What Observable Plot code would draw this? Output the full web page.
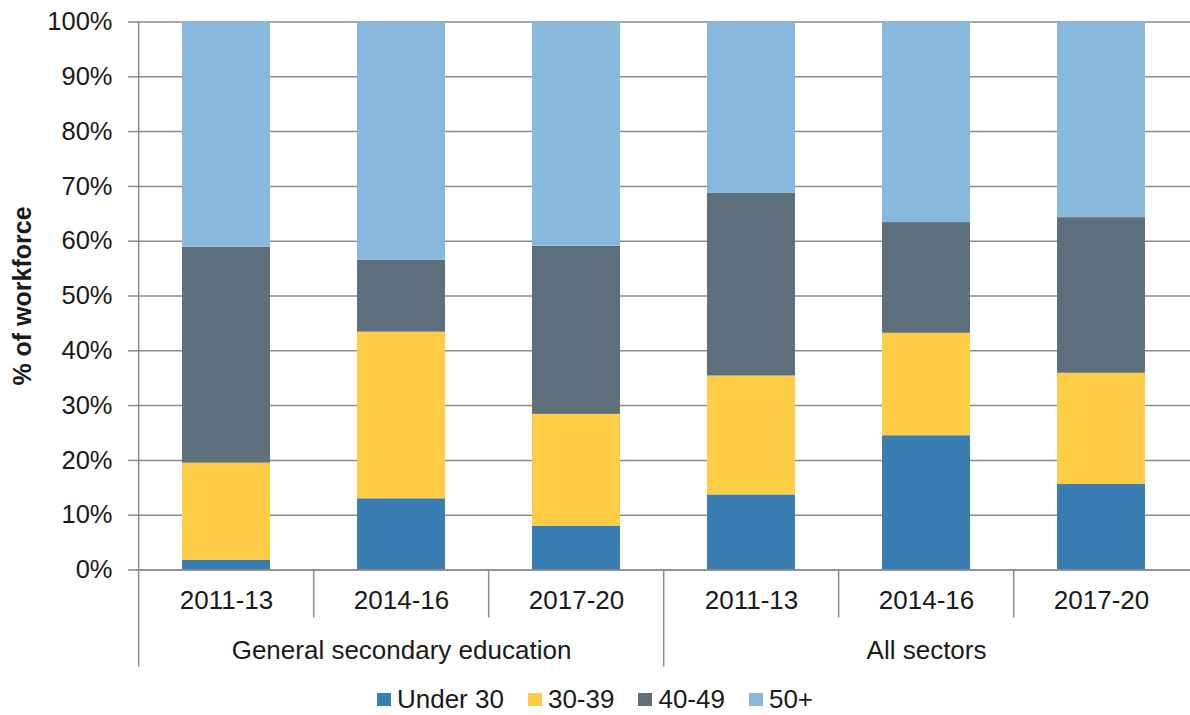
<!DOCTYPE html>
<html>
<head>
<meta charset="utf-8">
<script src="https://cdn.jsdelivr.net/npm/d3@7"></script>
<script src="https://cdn.jsdelivr.net/npm/@observablehq/plot@0.6"></script>
<style>
  html, body { margin: 0; padding: 0; background: #fff; }
  #chart { width: 1190px; font-family: "Liberation Sans", Arial, sans-serif; }
  .legend { display: flex; justify-content: center; align-items: center; height: 35px; font-size: 26px; color: #1a1a1a; padding-top: 2px; }
  .legend .item { display: flex; align-items: center; margin: 0 12px; }
  .legend .sw { width: 14px; height: 13px; margin-right: 6px; }
</style>
</head>
<body>
<div id="chart"></div>
<script>
// ---- Data ----
const groups = ["General secondary education", "All sectors"];
const periods = ["2011-13", "2014-16", "2017-20"];
const ageBands = ["Under 30", "30-39", "40-49", "50+"];
const ageColors = ["#3A7EB1", "#FECD45", "#5C6F7B", "#88B8DC"];
// values in bar order: GSE 2011-13, 2014-16, 2017-20, All 2011-13, 2014-16, 2017-20
const under30   = [1.8, 13.0, 8.0, 13.7, 24.5, 15.6];
const age30to39 = [17.7, 30.4, 20.4, 21.7, 18.7, 20.3];
const age40to49 = [39.4, 13.1, 30.7, 33.3, 20.2, 28.4];
const age50plus = [41.1, 43.5, 40.9, 31.3, 36.6, 35.7];
const yTicks = [0, 10, 20, 30, 40, 50, 60, 70, 80, 90, 100];

// ---- Build table ----
const series = [under30, age30to39, age40to49, age50plus];
const keys = [];
groups.forEach(g => periods.forEach(p => keys.push(`${g}|${p}`)));
const rows = [];
keys.forEach((k, i) => {
  ageBands.forEach((a, j) => rows.push({key: k, age: a, value: series[j][i]}));
});

const W = 1190, H = 680, mL = 136, mR = 0, mT = 21.5, mB = 110.5;
const xOpts = {type: "band", domain: keys, paddingInner: 0.5, paddingOuter: 0.25};
const sx = Plot.scale({x: {...xOpts, range: [mL, W - mR]}});
const step = sx.step ?? sx.bandwidth * 2;
const sy = Plot.scale({y: {domain: [0, 100], range: [H - mB, mT]}});
const shortBottom = sy.invert(H - mB + 48);
const longBottom = sy.invert(H - mB + 97);

const gray = "#8c8c8c";
const groupStarts = groups.map(g => `${g}|${periods[0]}`);
const innerStarts = keys.filter(k => !groupStarts.includes(k));
const groupMids = groups.map(g => ({key: `${g}|${periods[1]}`, label: g}));

const plot = Plot.plot({
  width: W, height: H,
  marginLeft: mL, marginRight: mR, marginTop: mT, marginBottom: mB,
  style: {fontFamily: "'Liberation Sans', Arial, sans-serif", fontSize: "26px", color: "#1a1a1a", background: "#fff"},
  x: {...xOpts, axis: null},
  y: {domain: [0, 100], axis: null},
  color: {domain: ageBands, range: ageColors},
  marks: [
    Plot.gridY(yTicks, {stroke: gray, strokeOpacity: 1, strokeWidth: 1.5}),
    Plot.barY(rows, Plot.stackY({x: "key", y: "value", fill: "age"})),
    Plot.ruleY([0], {stroke: gray, strokeWidth: 1.5}),
    // left axis line + group separators
    Plot.ruleX(keys.slice(0, 1), {x: d => d, dx: -step / 2, y1: 100, y2: 0, stroke: gray, strokeWidth: 1.5}),
    Plot.ruleX(groupStarts, {x: d => d, dx: -step / 2, y1: 0, y2: longBottom, stroke: gray, strokeWidth: 1.5}),
    Plot.ruleX(innerStarts, {x: d => d, dx: -step / 2, y1: 0, y2: shortBottom, stroke: gray, strokeWidth: 1.5}),
    Plot.axisY(yTicks, {tickSize: 8, tickPadding: 16, stroke: gray, strokeWidth: 1.5, tickFormat: d => `${d}%`, fontSize: 25.5, fill: "#1a1a1a", label: null}),
    Plot.axisX({tickSize: 0, tickPadding: 21, tickFormat: d => d.split("|")[1], fontSize: 26, fill: "#1a1a1a", label: null}),
    Plot.text(groupMids, {x: "key", text: "label", frameAnchor: "bottom", lineAnchor: "top", dy: 71, fontSize: 26, fill: "#1a1a1a"}),
    Plot.text(["% of workforce"], {frameAnchor: "left", textAnchor: "middle", dx: -114, rotate: -90, fontWeight: "bold", fontSize: 25, fill: "#1a1a1a"})
  ]
});

const chart = document.getElementById("chart");
chart.appendChild(plot);

const legend = document.createElement("div");
legend.className = "legend";
ageBands.forEach((a, i) => {
  const item = document.createElement("div");
  item.className = "item";
  const sw = document.createElement("span");
  sw.className = "sw";
  sw.style.background = ageColors[i];
  const t = document.createElement("span");
  t.textContent = a;
  item.appendChild(sw);
  item.appendChild(t);
  legend.appendChild(item);
});
chart.appendChild(legend);
</script>
</body>
</html>
